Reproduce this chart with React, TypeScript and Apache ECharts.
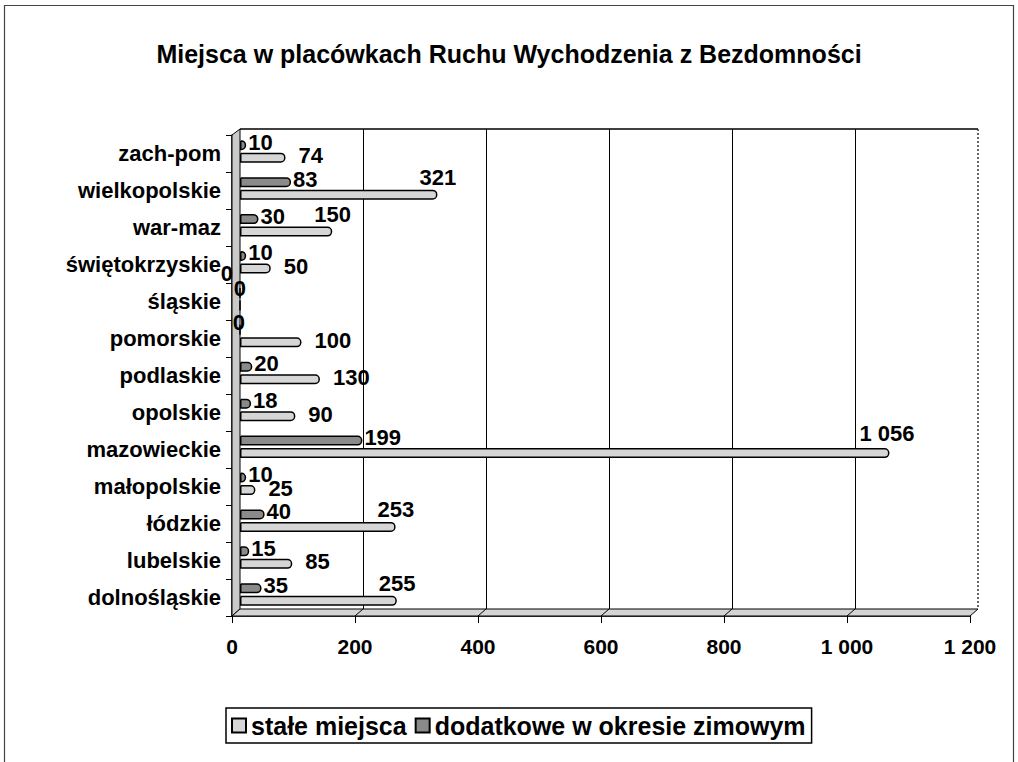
import React, { useEffect, useRef } from "react";
import * as echarts from "echarts";

const categories = [
  "dolnośląskie",
  "lubelskie",
  "łódzkie",
  "małopolskie",
  "mazowieckie",
  "opolskie",
  "podlaskie",
  "pomorskie",
  "śląskie",
  "świętokrzyskie",
  "war-maz",
  "wielkopolskie",
  "zach-pom",
];
const staleMiejsca = [255, 85, 253, 25, 1056, 90, 130, 100, 0, 50, 150, 321, 74];
const dodatkowe = [35, 15, 40, 10, 199, 18, 20, 0, 0, 10, 30, 83, 10];
const seriesNames = ["stałe miejsca", "dodatkowe w okresie zimowym"];
const xMin = 0;
const xMax = 1200;
const xInterval = 200;
const title = "Miejsca w placówkach Ruchu Wychodzenia z Bezdomności";

const W = 1018;
const H = 762;
const FONT = "'Liberation Sans', Arial, sans-serif";

// layout of the pseudo-3D frame
const FRONT_L = 232;
const FRONT_R = 970;
const FRONT_T = 135;
const FRONT_B = 616;
const DX = 8;
const DY = 7;

const fmt = (v: number) => String(v).replace(/\B(?=(\d{3})+(?!\d))/g, " ");

export default function App() {
  const ref = useRef<HTMLDivElement>(null);
  useEffect(() => {
    if (!ref.current) return;
    const chart = echarts.init(ref.current, null, { renderer: "svg" });

    const backL = FRONT_L + DX;
    const backR = FRONT_R + DX;
    const backT = FRONT_T - DY + 1;
    const backB = FRONT_B - DY;

    const floorLines: any[] = [];
    for (let v = xMin + xInterval; v < xMax; v += xInterval) {
      const fx = FRONT_L + ((v - xMin) / (xMax - xMin)) * (FRONT_R - FRONT_L);
      floorLines.push({
        type: "line",
        z: 5,
        shape: { x1: fx, y1: FRONT_B, x2: fx + DX, y2: backB },
        style: { stroke: "#000", lineWidth: 1 },
      });
    }

    // label placement rules (Excel-like: long bars get label above the bar end)
    const staleData = staleMiejsca.map((v) => {
      if (v >= 150)
        return {
          value: v,
          label: { offset: [-(fmt(v).length * 6) - 4, v >= 1000 ? -20 : -17] },
        };
      if (v === 0) return { value: v, label: { offset: [-11, -17] } };
      return { value: v };
    });
    const dodData = dodatkowe.map((v, i) => {
      if (v === 0)
        return {
          value: v,
          label: { offset: staleMiejsca[i] === 0 ? [-22, -19] : [-10, -7] },
        };
      return { value: v };
    });

    const labelStyle = {
      fontFamily: FONT,
      fontSize: 22,
      fontWeight: "bold",
      color: "#000",
      formatter: (p: any) => fmt(p.value),
    };

    chart.setOption({
      animation: false,
      backgroundColor: "#fff",
      title: {
        text: title,
        left: "center",
        top: 36,
        textStyle: {
          fontFamily: FONT,
          fontSize: 25,
          fontWeight: "bold",
          color: "#000",
        },
      },
      legend: {
        data: seriesNames,
        left: 226,
        top: 708,
        orient: "horizontal",
        borderColor: "#000",
        borderWidth: 1.5,
        padding: [5, 6, 5, 5],
        itemWidth: 14,
        itemHeight: 14,
        itemGap: 8,
        icon: "rect",
        textStyle: {
          fontFamily: FONT,
          fontSize: 25,
          fontWeight: "bold",
          color: "#000",
        },
      },
      grid: [
        // back wall
        { left: backL, right: W - backR, top: backT, bottom: H - backB },
        // bars
        { left: backL, right: W - backR, top: 133, bottom: H - 613 },
        // front axes
        { left: FRONT_L, right: W - FRONT_R, top: FRONT_T, bottom: H - FRONT_B },
      ],
      xAxis: [
        {
          gridIndex: 0,
          type: "value",
          min: xMin,
          max: xMax,
          interval: xInterval,
          axisLine: { show: false },
          axisTick: { show: false },
          axisLabel: { show: false },
          splitLine: {
            show: true,
            showMinLine: false,
            showMaxLine: false,
            lineStyle: { color: "#000", width: 1 },
          },
        },
        {
          gridIndex: 1,
          type: "value",
          min: xMin,
          max: xMax,
          interval: xInterval,
          show: false,
        },
        {
          gridIndex: 2,
          type: "value",
          min: xMin,
          max: xMax,
          interval: xInterval,
          axisLine: { show: true, lineStyle: { color: "#000", width: 1.5 } },
          axisTick: { show: true, length: 7, inside: false, lineStyle: { color: "#000" } },
          axisLabel: {
            margin: 20,
            fontFamily: FONT,
            fontSize: 21,
            fontWeight: "bold",
            color: "#000",
            formatter: (v: number) => fmt(v),
          },
          splitLine: { show: false },
        },
      ],
      yAxis: [
        { gridIndex: 0, type: "category", data: categories, show: false },
        { gridIndex: 1, type: "category", data: categories, show: false },
        {
          gridIndex: 2,
          type: "category",
          data: categories,
          axisLine: { show: true, lineStyle: { color: "#000", width: 1.5 } },
          axisTick: { show: true, length: 6, inside: false, lineStyle: { color: "#000" } },
          axisLabel: {
            margin: 11,
            fontFamily: FONT,
            fontSize: 22,
            fontWeight: "bold",
            color: "#000",
          },
          splitLine: { show: false },
        },
      ],
      series: [
        {
          name: seriesNames[1],
          type: "bar",
          xAxisIndex: 1,
          yAxisIndex: 1,
          data: dodData,
          barWidth: 10,
          barGap: "25%",
          z: 10,
          itemStyle: {
            color: "#8a8a8a",
            borderColor: "#000",
            borderWidth: 1.5,
            borderRadius: [0, 4, 4, 0],
          },
          label: {
            show: true,
            position: "right",
            distance: 2,
            offset: [0, -3],
            ...labelStyle,
          },
        },
        {
          name: seriesNames[0],
          type: "bar",
          xAxisIndex: 1,
          yAxisIndex: 1,
          data: staleData,
          barWidth: 10,
          barGap: "25%",
          z: 10,
          itemStyle: {
            color: "#d6d6d6",
            borderColor: "#000",
            borderWidth: 1.5,
            borderRadius: [0, 4, 4, 0],
          },
          label: {
            show: true,
            position: "right",
            distance: 4,
            offset: [9, -2],
            ...labelStyle,
          },
        },
      ],
      graphic: [
        {
          type: "rect",
          z: 0,
          silent: true,
          shape: { x: 4.5, y: 5.5, width: 1009, height: 770 },
          style: { fill: "none", stroke: "#444", lineWidth: 1.2 },
        },
        // left wall
        {
          type: "polygon",
          z: 4,
          shape: {
            points: [
              [FRONT_L, FRONT_T],
              [backL, backT],
              [backL, backB],
              [FRONT_L, FRONT_B],
            ],
          },
          style: { fill: "#c9c9c9", stroke: "#000", lineWidth: 1 },
        },
        // floor
        {
          type: "polygon",
          z: 4,
          shape: {
            points: [
              [FRONT_L, FRONT_B],
              [FRONT_R, FRONT_B],
              [backR, backB],
              [backL, backB],
            ],
          },
          style: { fill: "#d4d4d4", stroke: "#000", lineWidth: 1 },
        },
        // back wall top edge
        {
          type: "line",
          z: 4,
          shape: { x1: backL, y1: backT, x2: backR, y2: backT },
          style: { stroke: "#000", lineWidth: 1.5 },
        },
        // right edge (dotted)
        {
          type: "line",
          z: 4,
          shape: { x1: backR, y1: backT, x2: backR, y2: backB },
          style: { stroke: "#333", lineWidth: 1.5, lineDash: [2, 2] },
        },
        ...floorLines,
      ],
    });
    return () => chart.dispose();
  }, []);
  return (
    <div
      ref={ref}
      style={{ position: "fixed", left: 0, top: 0, width: W, height: H }}
    />
  );
}
